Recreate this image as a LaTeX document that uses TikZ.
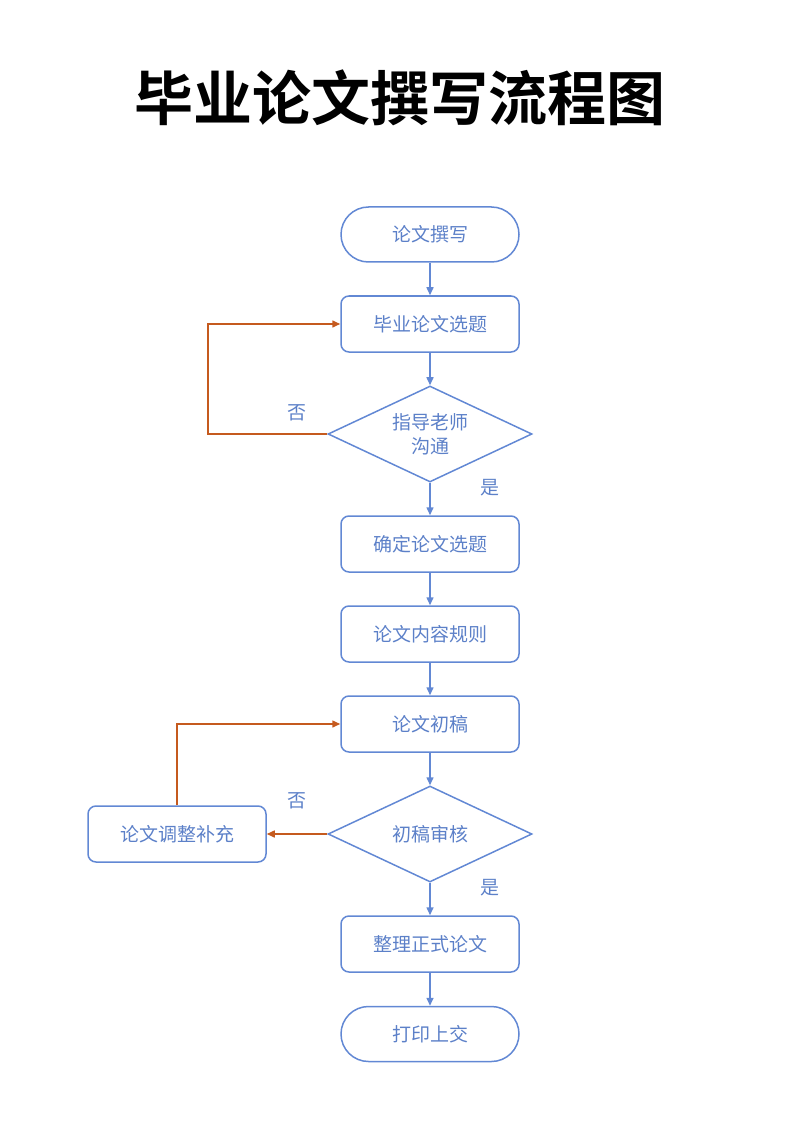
\documentclass[tikz,border=0pt]{standalone}
\usepackage{fontspec}
\newfontfamily\cjk{Noto Sans CJK SC}
\newfontfamily\cjkb{Noto Sans CJK SC Bold}
\usetikzlibrary{shapes.geometric,arrows.meta}
\definecolor{flowblue}{RGB}{98,136,212}
\definecolor{flowtext}{RGB}{92,128,200}
\definecolor{floworange}{RGB}{197,90,30}
\begin{document}
\begin{tikzpicture}[x=1pt,y=-1pt,
  box/.style={draw=flowblue,line width=1.5pt,rounded corners=8pt,minimum width=178pt,minimum height=56pt,inner sep=0pt,font=\cjk\fontsize{19}{23}\selectfont,text=flowtext},
  term/.style={draw=flowblue,line width=1.5pt,rounded corners=27.5pt,minimum width=178pt,minimum height=55pt,inner sep=0pt,font=\cjk\fontsize{19}{23}\selectfont,text=flowtext},
  decide/.style={draw=flowblue,line width=1.5pt,diamond,minimum width=204pt,minimum height=96pt,inner sep=0pt,font=\cjk\fontsize{19}{24}\selectfont,text=flowtext,align=center},
  flow/.style={draw=flowblue,line width=1.5pt,-{Triangle[length=8pt,width=7pt]}},
  back/.style={draw=floworange,line width=1.5pt,-{Triangle[length=8pt,width=7pt]}},
  lbl/.style={font=\cjk\fontsize{19}{23}\selectfont,text=flowtext}
]
\useasboundingbox (0,0) rectangle (800,1131);
\node[font=\cjkb\fontsize{59}{64}\selectfont] (title) at (400,98) {毕业论文撰写流程图};

\node[term] (n1) at (430,234.5) {论文撰写};
\node[box] (n2) at (430,324) {毕业论文选题};
\node[decide,shape aspect=2.125] (d1) at (430,434) {指导老师\\沟通};
\node[box] (n3) at (430,544) {确定论文选题};
\node[box] (n4) at (430,634) {论文内容规则};
\node[box] (n5) at (430,724) {论文初稿};
\node[decide,shape aspect=2.125] (d2) at (430,834) {初稿审核};
\node[box] (n6) at (177,834) {论文调整补充};
\node[box] (n7) at (430,944) {整理正式论文};
\node[term] (n8) at (430,1034) {打印上交};

\coordinate (c1) at (208,434);
\coordinate (c2) at (208,324);
\coordinate (c3) at (177,724);

\draw[flow] (n1) -- (n2);
\draw[flow] (n2) -- (d1);
\draw[flow] (d1) -- (n3);
\draw[flow] (n3) -- (n4);
\draw[flow] (n4) -- (n5);
\draw[flow] (n5) -- (d2);
\draw[flow] (d2) -- (n7);
\draw[flow] (n7) -- (n8);

\draw[back] (d1.west) -- (c1) -- (c2) -- (n2.west);
\draw[back] (d2.west) -- (n6.east);
\draw[back] (n6.north) -- (c3) -- (n5.west);

\node[lbl] (no1) at (297,413) {否};
\node[lbl] (yes1) at (490,488) {是};
\node[lbl] (no2) at (297,801) {否};
\node[lbl] (yes2) at (490,888) {是};
\end{tikzpicture}
\end{document}
